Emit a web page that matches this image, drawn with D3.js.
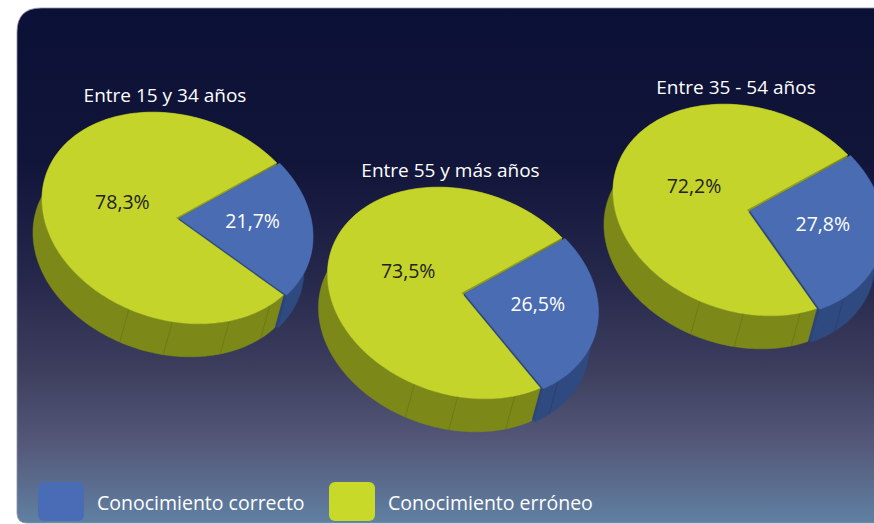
<!DOCTYPE html>
<html>
<head>
<meta charset="utf-8">
<script src="https://cdn.jsdelivr.net/npm/d3@7/dist/d3.min.js"></script>
<style>
  html, body { margin: 0; padding: 0; background: #ffffff; }
  svg { display: block; }
  text { font-family: "Open Sans", "Noto Sans", sans-serif; }
</style>
</head>
<body>
<svg id="chart" width="874" height="524"></svg>
<script>
// Age groups and share of respondents per kind of knowledge (%)
const groups = ["Entre 15 y 34 años", "Entre 55 y más años", "Entre 35 - 54 años"];
const correcto = [21.7, 26.5, 27.8];
const erroneo = [78.3, 73.5, 72.2];
const seriesNames = ["Conocimiento correcto", "Conocimiento erróneo"];
const valueLabels = [["21,7%", "78,3%"], ["26,5%", "73,5%"], ["27,8%", "72,2%"]];

const W = 874, H = 524;
const svg = d3.select("#chart");

// ---- palette ----
const topColor  = ["#4a6cb2", "#c5d42a"];
const sideColor = ["#2f4a80", "#7c8919"];
const cutColor  = ["#2c4577", "#8b9a1f"];
const seamColor = ["#22375f", "#5f6a10"];
const textColor = ["#ffffff", "#222222"];

// ---- background panel ----
const defs = svg.append("defs");
const grad = defs.append("linearGradient")
  .attr("id", "bg").attr("gradientUnits", "userSpaceOnUse")
  .attr("x1", 0).attr("y1", 8).attr("x2", 0).attr("y2", 524);
[[0, "#0b1036"], [0.3, "#111539"], [0.5, "#232549"], [0.7, "#3d3e5e"],
 [0.85, "#55597a"], [1, "#6081a3"]].forEach(([o, c]) =>
  grad.append("stop").attr("offset", o).attr("stop-color", c));

const pl = 17, pt0 = 8, pb = 523, rTop = 24, rBot = 10;
svg.append("path")
  .attr("d", `M${W + 10},${pt0} L${pl + rTop},${pt0} Q${pl},${pt0} ${pl},${pt0 + rTop}
              L${pl},${pb - rBot} Q${pl},${pb} ${pl + rBot},${pb} L${W + 10},${pb} Z`)
  .attr("fill", "url(#bg)")
  .attr("stroke", "#8e90a6").attr("stroke-width", 0.8);

// ---- 3D pie geometry ----
const rx = 137, ry = 102;                 // top-face ellipse radii
const tilt = 18 * Math.PI / 180;          // ellipse rotation
const ext = [-9, 33];                     // extrusion of the side wall
const explode = 3;                        // offset of the smaller slice
const cosT = Math.cos(tilt), sinT = Math.sin(tilt);

const xPos = d3.scalePoint().domain(groups).range([176, 747]);
const yPos = d3.scaleOrdinal().domain(groups).range([218, 293, 210]);

// d3 angle (0 at 12 o'clock, clockwise) -> point on the tilted ellipse
function onRim(c, a, k = 1) {
  const t = a - Math.PI / 2;
  const x = k * rx * Math.cos(t), y = k * ry * Math.sin(t);
  return [c[0] + x * cosT - y * sinT, c[1] + x * sinT + y * cosT];
}
const shift = (p, v) => [p[0] + v[0], p[1] + v[1]];
const line = d3.line();

function arcPoints(c, a0, a1) {
  const n = Math.max(8, Math.ceil((a1 - a0) / 0.02));
  return d3.range(n + 1).map(i => onRim(c, a0 + (a1 - a0) * i / n));
}

const pie = d3.pie().sort(null).value(d => d.v)
  .startAngle(35 * Math.PI / 180)
  .endAngle(35 * Math.PI / 180 + 2 * Math.PI);

// seams on the side wall, in degrees of the d3 angle
const seams = [122, 143, 168, 187];

groups.forEach((g, gi) => {
  const c0 = [xPos(g), yPos(g)];
  const slices = pie([{ v: correcto[gi], k: 0 }, { v: erroneo[gi], k: 1 }]);

  slices.forEach(s => {
    const mid = onRim([0, 0], (s.startAngle + s.endAngle) / 2);
    const len = Math.hypot(mid[0], mid[1]);
    const off = s.data.k === 0 ? [mid[0] / len * explode, mid[1] / len * explode] : [0, 0];
    s.c = shift(c0, off);
  });

  const gp = svg.append("g");
  const order = [slices[1], slices[0]];

  // radial cut walls sit behind everything else
  order.forEach(s => {
    const k = s.data.k;
    [s.startAngle, s.endAngle].forEach(a => {
      const p = onRim(s.c, a);
      gp.append("path")
        .attr("d", line([s.c, p, shift(p, ext), shift(s.c, ext)]) + "Z")
        .attr("fill", cutColor[k]);
    });
  });

  // curved outer walls with faint seams
  order.forEach(s => {
    const k = s.data.k;
    const top = arcPoints(s.c, s.startAngle, s.endAngle);
    const bottom = top.map(p => shift(p, ext)).reverse();
    gp.append("path")
      .attr("d", line(top.concat(bottom)) + "Z")
      .attr("fill", sideColor[k])
      .attr("stroke", sideColor[k]).attr("stroke-width", 0.5);
    seams.forEach(deg => {
      let a = deg * Math.PI / 180;
      while (a < s.startAngle) a += 2 * Math.PI;
      if (a > s.startAngle + 0.02 && a < s.endAngle - 0.02) {
        const p = onRim(s.c, a);
        gp.append("path")
          .attr("d", line([p, shift(p, ext)]))
          .attr("stroke", seamColor[k]).attr("stroke-width", 0.8)
          .attr("stroke-opacity", 0.6).attr("fill", "none");
      }
    });
  });

  // top faces
  order.forEach(s => {
    const k = s.data.k;
    gp.append("path")
      .attr("d", line([s.c].concat(arcPoints(s.c, s.startAngle, s.endAngle))) + "Z")
      .attr("fill", topColor[k])
      .attr("stroke", topColor[k]).attr("stroke-width", 0.4);
  });

  // value labels
  slices.forEach(s => {
    const k = s.data.k;
    const p = onRim(s.c, (s.startAngle + s.endAngle) / 2, k === 0 ? 0.55 : 0.4);
    gp.append("text")
      .attr("x", p[0]).attr("y", p[1] - (k === 0 ? 6 : 11))
      .attr("text-anchor", "middle").attr("dominant-baseline", "central")
      .attr("font-size", 19.5).attr("fill", textColor[k])
      .text(valueLabels[gi][k]);
  });

  // group title
  svg.append("text")
    .attr("x", c0[0] - 11).attr("y", c0[1] - 116)
    .attr("text-anchor", "middle")
    .attr("font-size", 19).attr("fill", "#ffffff")
    .text(g);
});

// ---- legend ----
const legendX = [38, 329];
seriesNames.forEach((name, i) => {
  svg.append("rect")
    .attr("x", legendX[i]).attr("y", 482).attr("width", 46).attr("height", 39)
    .attr("rx", 6).attr("fill", i === 0 ? "#4a6cb6" : "#c8d92a");
  svg.append("text")
    .attr("x", legendX[i] + 59).attr("y", 510)
    .attr("font-size", 19.5).attr("fill", "#ffffff")
    .text(name);
});
</script>
</body>
</html>
